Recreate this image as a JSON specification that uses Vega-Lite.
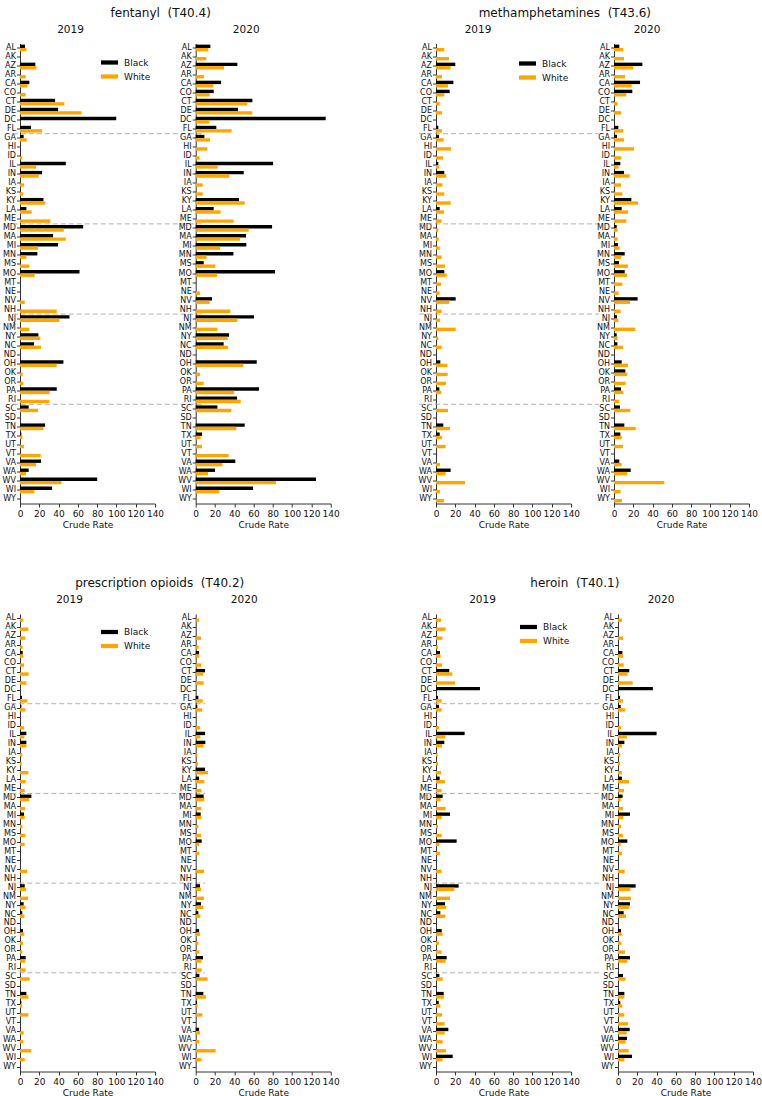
{
"$schema": "https://vega.github.io/schema/vega-lite/v6.json",
"padding": {"left": 2, "top": 6.5, "right": 0, "bottom": 0},
"config": {
 "view": {"stroke": null},
 "font": "DejaVu Sans",
 "axis": {"grid": false, "domainColor": "#333333", "tickColor": "#333333", "labelColor": "#111111", "titleColor": "#111111", "labelFont": "DejaVu Sans", "titleFont": "DejaVu Sans", "titleFontWeight": "normal", "titleFontSize": 9, "tickSize": 3.5, "labelOverlap": false},
 "axisY": {"labelFontSize": 8, "labelPadding": 1},
 "axisX": {"labelFontSize": 9, "labelPadding": 2, "titlePadding": 2, "labelFlush": false, "labelOverlap": false},
 "title": {"font": "DejaVu Sans", "fontWeight": "normal", "fontSize": 10.5, "color": "#111111", "offset": 7, "frame": "group", "anchor": "middle"},
 "style": {"group-title": {"font": "DejaVu Sans", "fontWeight": "normal", "fontSize": 10.5, "color": "#111111"}},
 "legend": {"labelFont": "DejaVu Sans", "labelFontSize": 9, "labelColor": "#111111", "symbolType": "M-1,-0.25H1V0.25H-1Z", "symbolSize": 289, "symbolStrokeWidth": 0, "labelOffset": 6, "padding": 0, "rowPadding": -3}
},
"datasets": {
 "breaks": [{"state": "GA"}, {"state": "MD"}, {"state": "NJ"}, {"state": "SC"}],
 "fent2019": [
  {"state":"AL","Black":5.2,"White":6.6},{"state":"AZ","Black":15.9,"White":17},{"state":"AR","White":5.9},{"state":"CA","Black":9.7,"White":7.6},{"state":"CO","White":5.9},{"state":"CT","Black":36.4,"White":46},{"state":"DE","Black":39.5,"White":63.8},{"state":"DC","Black":99.8},{"state":"FL","Black":11.4,"White":22.9},{"state":"GA","Black":3.8,"White":6.9},{"state":"ID","White":2.4},{"state":"IL","Black":47.5,"White":16.6},{"state":"IN","Black":22.9,"White":19.4},{"state":"IA","White":4.2},{"state":"KS","White":3.5},{"state":"KY","Black":24.3,"White":26.3},{"state":"LA","Black":6.6,"White":12.1},{"state":"ME","White":31.5},{"state":"MD","Black":65.5,"White":45.4},{"state":"MA","Black":34.3,"White":47.5},{"state":"MI","Black":39.5,"White":18.7},{"state":"MN","Black":18,"White":6.6},{"state":"MS","White":9.7},{"state":"MO","Black":61.7,"White":15.2},{"state":"NV","White":4.9},{"state":"NH","White":38.1},{"state":"NJ","Black":51.3,"White":40.9},{"state":"NM","White":9.7},{"state":"NY","Black":19.1,"White":21.1},{"state":"NC","Black":14.6,"White":21.8},{"state":"OH","Black":45,"White":38.1},{"state":"OK","White":2.8},{"state":"OR","White":3.5},{"state":"PA","Black":38.1,"White":30.8},{"state":"RI","White":30.5},{"state":"SC","Black":9,"White":18.7},{"state":"TN","Black":26,"White":24.3},{"state":"TX","Black":1.4,"White":2.4},{"state":"UT","White":4.2},{"state":"VT","White":21.5},{"state":"VA","Black":21.8,"White":16.6},{"state":"WA","Black":9,"White":6.2},{"state":"WV","Black":80,"White":43},{"state":"WI","Black":33.3,"White":14.9}
 ],
 "fent2020": [
  {"state":"AL","Black":15.2,"White":13.1},{"state":"AK","White":11.1},{"state":"AZ","Black":43.2,"White":29.4},{"state":"AR","White":8.6},{"state":"CA","Black":26.3,"White":18.3},{"state":"CO","Black":18.7,"White":14.5},{"state":"CT","Black":58.8,"White":53.6},{"state":"DE","Black":43.9,"White":58.8},{"state":"DC","Black":134.8,"White":14.2},{"state":"FL","Black":21.4,"White":37.3},{"state":"GA","Black":9,"White":14.9},{"state":"HI","White":12.1},{"state":"ID","White":4.1},{"state":"IL","Black":80.2,"White":22.8},{"state":"IN","Black":49.8,"White":34.9},{"state":"IA","White":7.3},{"state":"KS","White":7.3},{"state":"KY","Black":44.9,"White":50.8},{"state":"LA","Black":18.7,"White":25.9},{"state":"ME","White":39.4},{"state":"MD","Black":79.2,"White":55},{"state":"MA","Black":52.2,"White":46},{"state":"MI","Black":52.5,"White":25.2},{"state":"MN","Black":39.1,"White":11.4},{"state":"MS","Black":8.3,"White":20.4},{"state":"MO","Black":82.3,"White":22.1},{"state":"NE","White":4.5},{"state":"NV","Black":16.9,"White":14.5},{"state":"NH","White":35.9},{"state":"NJ","Black":60.5,"White":43.2},{"state":"NM","White":22.5},{"state":"NY","Black":34.6,"White":33.2},{"state":"NC","Black":29,"White":33.5},{"state":"OH","Black":63.3,"White":49.4},{"state":"OK","White":4.5},{"state":"OR","White":8.3},{"state":"PA","Black":65.7,"White":39.8},{"state":"RI","Black":42.9,"White":46.7},{"state":"SC","Black":22.5,"White":37},{"state":"TN","Black":50.8,"White":42.2},{"state":"TX","Black":6.6,"White":5.2},{"state":"UT","White":6.6},{"state":"VT","White":34.2},{"state":"VA","Black":41.1,"White":27.7},{"state":"WA","Black":20,"White":12.8},{"state":"WV","Black":124.8,"White":83.3},{"state":"WI","Black":59.5,"White":24.5}
 ],
 "meth2019": [
  {"state":"AL","White":8.6},{"state":"AK","White":13.5},{"state":"AZ","Black":20,"White":15.2},{"state":"AR","White":6.2},{"state":"CA","Black":18,"White":12.4},{"state":"CO","Black":14.2,"White":8.6},{"state":"CT","White":3.8},{"state":"DE","White":6.2},{"state":"FL","Black":2.4,"White":6.2},{"state":"GA","Black":3.1,"White":8},{"state":"HI","White":15.6},{"state":"ID","White":7.3},{"state":"IL","Black":2.4,"White":3.5},{"state":"IN","Black":8.6,"White":10.7},{"state":"IA","White":6.6},{"state":"KS","White":8.6},{"state":"KY","White":15.2},{"state":"LA","Black":3.8,"White":8.3},{"state":"ME","White":5.9},{"state":"MD","White":2.4},{"state":"MA","White":2.8},{"state":"MI","White":3.8},{"state":"MN","White":5.9},{"state":"MS","White":9.3},{"state":"MO","Black":8.6,"White":11.1},{"state":"MT","White":5.2},{"state":"NE","White":3.8},{"state":"NV","Black":20.4,"White":13.8},{"state":"NH","White":5.9},{"state":"NJ","White":4.1},{"state":"NM","White":20.4},{"state":"NY","White":2.4},{"state":"NC","White":5.9},{"state":"OH","Black":4.5,"White":11.8},{"state":"OK","White":12.1},{"state":"OR","White":10.4},{"state":"PA","Black":3.5,"White":5.5},{"state":"SC","White":12.4},{"state":"TN","Black":7.6,"White":14.5},{"state":"TX","Black":3.8,"White":6.2},{"state":"UT","White":10},{"state":"VA","White":4.1},{"state":"WA","Black":15.2,"White":10},{"state":"WV","White":30.1},{"state":"WI","White":4.1},{"state":"WY","White":8.3}
 ],
 "meth2020": [
  {"state":"AL","Black":5.5,"White":9.7},{"state":"AK","White":10.4},{"state":"AZ","Black":29.4,"White":20},{"state":"AR","White":11.4},{"state":"CA","Black":27,"White":18.3},{"state":"CO","Black":19,"White":12.8},{"state":"CT","White":3.8},{"state":"DE","White":7.6},{"state":"FL","Black":4.5,"White":9.7},{"state":"GA","Black":3.1,"White":10.4},{"state":"HI","White":20.7},{"state":"ID","White":7.6},{"state":"IL","Black":6.6,"White":4.8},{"state":"IN","Black":10.4,"White":16.3},{"state":"IA","White":7.3},{"state":"KS","White":8.6},{"state":"KY","Black":18,"White":24.9},{"state":"LA","Black":8,"White":14.5},{"state":"ME","White":12.8},{"state":"MD","Black":2.8,"White":3.8},{"state":"MA","White":3.8},{"state":"MI","Black":4.1,"White":5.9},{"state":"MN","Black":11.1,"White":7.6},{"state":"MS","Black":5.2,"White":14.5},{"state":"MO","Black":11.1,"White":13.5},{"state":"MT","White":8.6},{"state":"NE","White":4.8},{"state":"NV","Black":24.5,"White":16.6},{"state":"NH","White":6.9},{"state":"NJ","Black":3.1,"White":4.5},{"state":"NM","White":22.1},{"state":"NY","Black":2.8,"White":3.8},{"state":"NC","Black":3.5,"White":9.3},{"state":"OH","Black":8,"White":14.5},{"state":"OK","Black":11.8,"White":13.8},{"state":"OR","White":12.1},{"state":"PA","Black":7.3,"White":9.7},{"state":"RI","White":5.5},{"state":"SC","Black":6.2,"White":16.9},{"state":"TN","Black":10.7,"White":22.5},{"state":"TX","Black":6.6,"White":8},{"state":"UT","White":9.3},{"state":"VA","Black":5.5,"White":8},{"state":"WA","Black":17.3,"White":13.8},{"state":"WV","White":52.2},{"state":"WI","White":6.9},{"state":"WY","White":8.3}
 ],
 "presc2019": [
  {"state":"AL","White":3.5},{"state":"AK","White":8.7},{"state":"AZ","White":5.5},{"state":"AR","White":2.8},{"state":"CA","Black":2.8,"White":3.5},{"state":"CO","White":4.2},{"state":"CT","White":9},{"state":"DE","White":6.6},{"state":"FL","Black":2.1,"White":7.6},{"state":"GA","Black":1.4,"White":5.5},{"state":"ID","White":4.2},{"state":"IL","Black":6.6,"White":4.5},{"state":"IN","Black":6.6,"White":6.6},{"state":"IA","White":2.4},{"state":"KS","White":1.7},{"state":"KY","White":8.7},{"state":"LA","White":5.9},{"state":"ME","White":4.9},{"state":"MD","Black":11.8,"White":9.7},{"state":"MA","White":5.2},{"state":"MI","Black":4.2,"White":4.9},{"state":"MN","White":2.4},{"state":"MS","White":5.5},{"state":"MO","White":4.9},{"state":"NV","White":7.3},{"state":"NJ","Black":4.9,"White":6.2},{"state":"NM","White":8.3},{"state":"NY","Black":3.8,"White":5.9},{"state":"NC","Black":2.4,"White":4.5},{"state":"OH","Black":3.1,"White":4.5},{"state":"OK","White":3.1},{"state":"OR","White":2.4},{"state":"PA","Black":5.9,"White":5.5},{"state":"RI","White":5.9},{"state":"SC","White":10},{"state":"TN","Black":6.6,"White":8.7},{"state":"TX","Black":1.4,"White":2.1},{"state":"UT","White":8.7},{"state":"VA","White":3.8},{"state":"WA","White":3.5},{"state":"WV","White":11.8},{"state":"WI","White":4.9}
 ],
 "presc2020": [
  {"state":"AL","White":3.5},{"state":"AZ","White":5.5},{"state":"AR","White":3.1},{"state":"CA","Black":3.5,"White":3.8},{"state":"CO","White":5.9},{"state":"CT","Black":9.7,"White":7.9},{"state":"DE","White":8.3},{"state":"FL","Black":2.8,"White":7.3},{"state":"GA","Black":1.7,"White":6.6},{"state":"ID","White":4.5},{"state":"IL","Black":9.7,"White":4.8},{"state":"IN","Black":10,"White":7.9},{"state":"IA","White":1.7},{"state":"KS","White":2.4},{"state":"KY","Black":9.7,"White":12.8},{"state":"LA","Black":3.5,"White":9},{"state":"ME","White":5.9},{"state":"MD","Black":8.3,"White":9},{"state":"MA","White":5.9},{"state":"MI","Black":5.2,"White":5.9},{"state":"MN","White":2.8},{"state":"MS","White":5.5},{"state":"MO","Black":6.2,"White":3.5},{"state":"MT","White":3.8},{"state":"NV","White":8.6},{"state":"NJ","Black":4.5,"White":5.5},{"state":"NM","White":8.6},{"state":"NY","Black":5.5,"White":7.9},{"state":"NC","Black":2.8,"White":4.8},{"state":"OH","Black":3.5,"White":4.5},{"state":"OK","White":2.8},{"state":"OR","White":3.8},{"state":"PA","Black":7.6,"White":5.9},{"state":"RI","White":6.2},{"state":"SC","Black":3.8,"White":12.4},{"state":"TN","Black":7.9,"White":10.7},{"state":"TX","Black":1.4,"White":2.1},{"state":"UT","White":6.9},{"state":"VA","Black":3.5,"White":4.5},{"state":"WA","White":3.8},{"state":"WV","White":20.7},{"state":"WI","White":5.9}
 ],
 "her2019": [
  {"state":"AL","White":5.2},{"state":"AK","White":10},{"state":"AZ","White":6.6},{"state":"AR","White":2.1},{"state":"CA","Black":4.1,"White":4.8},{"state":"CO","White":6.2},{"state":"CT","Black":13.8,"White":16.9},{"state":"DE","White":19.7},{"state":"DC","Black":45.6},{"state":"FL","Black":2.1,"White":5.9},{"state":"GA","Black":3.1,"White":5.9},{"state":"ID","White":3.1},{"state":"IL","Black":29.7,"White":9.7},{"state":"IN","Black":8.6,"White":6.2},{"state":"IA","White":1.7},{"state":"KS","White":2.1},{"state":"KY","White":5.2},{"state":"LA","Black":3.8,"White":9.3},{"state":"ME","White":5.9},{"state":"MD","Black":6.9,"White":4.8},{"state":"MA","White":10},{"state":"MI","Black":14.5,"White":5.9},{"state":"MN","White":2.1},{"state":"MS","White":5.9},{"state":"MO","Black":21.4,"White":3.5},{"state":"MT","White":4.1},{"state":"NV","White":5.9},{"state":"NJ","Black":23.5,"White":19},{"state":"NM","White":14.5},{"state":"NY","Black":9.3,"White":10.7},{"state":"NC","Black":4.5,"White":9.7},{"state":"OH","Black":5.9,"White":6.9},{"state":"OK","White":3.1},{"state":"OR","White":5.9},{"state":"PA","Black":11.1,"White":10},{"state":"SC","Black":3.5,"White":6.9},{"state":"TN","Black":8,"White":8.3},{"state":"TX","Black":2.8,"White":4.5},{"state":"UT","White":6.2},{"state":"VT","White":9},{"state":"VA","Black":12.8,"White":9},{"state":"WA","White":6.9},{"state":"WV","White":10.4},{"state":"WI","Black":17.3,"White":6.6}
 ],
 "her2020": [
  {"state":"AL","White":4.1},{"state":"AZ","White":5.2},{"state":"CA","Black":4.5,"White":5.2},{"state":"CO","White":5.9},{"state":"CT","Black":11.7,"White":10},{"state":"DE","White":15.2},{"state":"DC","Black":36.2},{"state":"FL","Black":2.1,"White":5.2},{"state":"GA","Black":2.8,"White":7.6},{"state":"ID","White":3.1},{"state":"IL","Black":40,"White":9.3},{"state":"IN","Black":6.6,"White":4.1},{"state":"IA","White":2.4},{"state":"KS","White":2.1},{"state":"KY","White":4.1},{"state":"LA","Black":4.1,"White":11.4},{"state":"ME","White":6.2},{"state":"MD","Black":4.8,"White":2.8},{"state":"MA","White":5.2},{"state":"MI","Black":12.4,"White":5.5},{"state":"MN","White":3.1},{"state":"MS","White":5.2},{"state":"MO","Black":9.7,"White":2.8},{"state":"MT","White":4.1},{"state":"NV","White":6.9},{"state":"NJ","Black":18.3,"White":12.8},{"state":"NM","White":13.4},{"state":"NY","Black":12.4,"White":11.7},{"state":"NC","Black":5.9,"White":8.3},{"state":"OH","Black":3.1,"White":3.8},{"state":"OK","White":3.5},{"state":"OR","White":7.2},{"state":"PA","Black":12.4,"White":9.7},{"state":"SC","Black":5.2,"White":7.9},{"state":"TN","Black":6.6,"White":6.6},{"state":"TX","Black":2.4,"White":4.5},{"state":"UT","White":6.6},{"state":"VT","White":10.3},{"state":"VA","Black":12.1,"White":9},{"state":"WA","Black":9.3,"White":7.9},{"state":"WV","White":11},{"state":"WI","Black":14.5,"White":6.6}
 ]
},
"spacing": 47.5,
"resolve": {"scale": {"color": "independent"}},
"vconcat": [
 {"spacing": 78, "resolve": {"scale": {"color": "independent"}},
  "hconcat": [
   {"title": {"text": "fentanyl\u00a0 (T40.4)", "fontSize": 12, "fontWeight": "normal", "frame": "bounds", "anchor": "middle", "dx": -10, "offset": 5},
    "spacing": 40.7, "bounds": "flush", "resolve": {"scale": {"color": "independent"}},
    "hconcat": [
     {"width": 135, "height": 460, "title": {"text": "2019", "dx": -17, "fontWeight": "normal", "fontSize": 10.5, "offset": 8},
      "layer": [
       {"data": {"name": "fent2019"}, "transform": [{"fold": ["Black","White"], "as": ["race","rate"]}, {"filter": "isValid(datum.rate)"}],
        "mark": "bar",
        "encoding": {
         "y": {"field": "state", "type": "nominal", "scale": {"domain": ["AL","AK","AZ","AR","CA","CO","CT","DE","DC","FL","GA","HI","ID","IL","IN","IA","KS","KY","LA","ME","MD","MA","MI","MN","MS","MO","MT","NE","NV","NH","NJ","NM","NY","NC","ND","OH","OK","OR","PA","RI","SC","SD","TN","TX","UT","VT","VA","WA","WV","WI","WY"], "paddingInner": 0, "paddingOuter": 0}, "axis": {"title": null}},
         "yOffset": {"field": "race", "type": "nominal", "scale": {"domain": ["Black","White"], "paddingInner": 0, "paddingOuter": 0.33}},
         "x": {"field": "rate", "type": "quantitative", "scale": {"domain": [0,140], "nice": false}, "axis": {"values": [0,20,40,60,80,100,120,140], "title": "Crude Rate"}},
         "color": {"field": "race", "type": "nominal", "scale": {"domain": ["Black","White"], "range": ["#000000","#ffa500"]}, "legend": {"title": null, "orient": "none", "legendX": 81, "legendY": 10.5}}
        }},
       {"data": {"name": "breaks"}, "mark": {"type": "rule", "color": "#b0b0b0", "strokeDash": [5,3], "strokeWidth": 1},
        "encoding": {"y": {"field": "state", "type": "nominal", "bandPosition": 0}, "x": {"datum": -7.5, "type": "quantitative", "axis": {"values": [0,20,40,60,80,100,120,140], "title": "Crude Rate"}}, "x2": {"datum": 192}}}
      ]},
     {"width": 135, "height": 460, "title": {"text": "2020", "dx": -17, "fontWeight": "normal", "fontSize": 10.5, "offset": 8},
      "data": {"name": "fent2020"}, "transform": [{"fold": ["Black","White"], "as": ["race","rate"]}, {"filter": "isValid(datum.rate)"}],
      "mark": "bar",
      "encoding": {
       "y": {"field": "state", "type": "nominal", "scale": {"domain": ["AL","AK","AZ","AR","CA","CO","CT","DE","DC","FL","GA","HI","ID","IL","IN","IA","KS","KY","LA","ME","MD","MA","MI","MN","MS","MO","MT","NE","NV","NH","NJ","NM","NY","NC","ND","OH","OK","OR","PA","RI","SC","SD","TN","TX","UT","VT","VA","WA","WV","WI","WY"], "paddingInner": 0, "paddingOuter": 0}, "axis": {"title": null}},
       "yOffset": {"field": "race", "type": "nominal", "scale": {"domain": ["Black","White"], "paddingInner": 0, "paddingOuter": 0.33}},
       "x": {"field": "rate", "type": "quantitative", "scale": {"domain": [0,140], "nice": false}, "axis": {"values": [0,20,40,60,80,100,120,140], "title": "Crude Rate"}},
       "color": {"field": "race", "type": "nominal", "scale": {"domain": ["Black","White"], "range": ["#000000","#ffa500"]}, "legend": null}
      }}
    ]},
   {"title": {"text": "methamphetamines\u00a0 (T43.6)", "fontSize": 12, "fontWeight": "normal", "frame": "bounds", "anchor": "middle", "dx": -23, "offset": 5},
    "spacing": 43, "bounds": "flush", "resolve": {"scale": {"color": "independent"}},
    "hconcat": [
     {"width": 135, "height": 460, "title": {"text": "2019", "dx": -25.5, "fontWeight": "normal", "fontSize": 10.5, "offset": 8},
      "layer": [
       {"data": {"name": "meth2019"}, "transform": [{"fold": ["Black","White"], "as": ["race","rate"]}, {"filter": "isValid(datum.rate)"}],
        "mark": "bar",
        "encoding": {
         "y": {"field": "state", "type": "nominal", "scale": {"domain": ["AL","AK","AZ","AR","CA","CO","CT","DE","DC","FL","GA","HI","ID","IL","IN","IA","KS","KY","LA","ME","MD","MA","MI","MN","MS","MO","MT","NE","NV","NH","NJ","NM","NY","NC","ND","OH","OK","OR","PA","RI","SC","SD","TN","TX","UT","VT","VA","WA","WV","WI","WY"], "paddingInner": 0, "paddingOuter": 0}, "axis": {"title": null}},
         "yOffset": {"field": "race", "type": "nominal", "scale": {"domain": ["Black","White"], "paddingInner": 0, "paddingOuter": 0.33}},
         "x": {"field": "rate", "type": "quantitative", "scale": {"domain": [0,140], "nice": false}, "axis": {"values": [0,20,40,60,80,100,120,140], "title": "Crude Rate"}},
         "color": {"field": "race", "type": "nominal", "scale": {"domain": ["Black","White"], "range": ["#000000","#ffa500"]}, "legend": {"title": null, "orient": "none", "legendX": 83, "legendY": 11.5}}
        }},
       {"data": {"name": "breaks"}, "mark": {"type": "rule", "color": "#b0b0b0", "strokeDash": [5,3], "strokeWidth": 1},
        "encoding": {"y": {"field": "state", "type": "nominal", "bandPosition": 0}, "x": {"datum": -17.6, "type": "quantitative", "axis": {"values": [0,20,40,60,80,100,120,140], "title": "Crude Rate"}}, "x2": {"datum": 169}}}
      ]},
     {"width": 135, "height": 460, "title": {"text": "2020", "dx": -34.5, "fontWeight": "normal", "fontSize": 10.5, "offset": 8},
      "data": {"name": "meth2020"}, "transform": [{"fold": ["Black","White"], "as": ["race","rate"]}, {"filter": "isValid(datum.rate)"}],
      "mark": "bar",
      "encoding": {
       "y": {"field": "state", "type": "nominal", "scale": {"domain": ["AL","AK","AZ","AR","CA","CO","CT","DE","DC","FL","GA","HI","ID","IL","IN","IA","KS","KY","LA","ME","MD","MA","MI","MN","MS","MO","MT","NE","NV","NH","NJ","NM","NY","NC","ND","OH","OK","OR","PA","RI","SC","SD","TN","TX","UT","VT","VA","WA","WV","WI","WY"], "paddingInner": 0, "paddingOuter": 0}, "axis": {"title": null}},
       "yOffset": {"field": "race", "type": "nominal", "scale": {"domain": ["Black","White"], "paddingInner": 0, "paddingOuter": 0.33}},
       "x": {"field": "rate", "type": "quantitative", "scale": {"domain": [0,140], "nice": false}, "axis": {"values": [0,20,40,60,80,100,120,140], "title": "Crude Rate"}},
       "color": {"field": "race", "type": "nominal", "scale": {"domain": ["Black","White"], "range": ["#000000","#ffa500"]}, "legend": null}
      }}
    ]}
  ]},
 {"spacing": 78, "resolve": {"scale": {"color": "independent"}},
  "hconcat": [
   {"title": {"text": "prescription opioids\u00a0 (T40.2)", "fontSize": 12, "fontWeight": "normal", "frame": "bounds", "anchor": "middle", "dx": -11, "offset": 5},
    "spacing": 40.7, "bounds": "flush", "resolve": {"scale": {"color": "independent"}},
    "hconcat": [
     {"width": 135, "height": 457.5, "title": {"text": "2019", "dx": -18, "fontWeight": "normal", "fontSize": 10.5, "offset": 8},
      "layer": [
       {"data": {"name": "presc2019"}, "transform": [{"fold": ["Black","White"], "as": ["race","rate"]}, {"filter": "isValid(datum.rate)"}],
        "mark": "bar",
        "encoding": {
         "y": {"field": "state", "type": "nominal", "scale": {"domain": ["AL","AK","AZ","AR","CA","CO","CT","DE","DC","FL","GA","HI","ID","IL","IN","IA","KS","KY","LA","ME","MD","MA","MI","MN","MS","MO","MT","NE","NV","NH","NJ","NM","NY","NC","ND","OH","OK","OR","PA","RI","SC","SD","TN","TX","UT","VT","VA","WA","WV","WI","WY"], "paddingInner": 0, "paddingOuter": 0}, "axis": {"title": null}},
         "yOffset": {"field": "race", "type": "nominal", "scale": {"domain": ["Black","White"], "paddingInner": 0, "paddingOuter": 0.33}},
         "x": {"field": "rate", "type": "quantitative", "scale": {"domain": [0,140], "nice": false}, "axis": {"values": [0,20,40,60,80,100,120,140], "title": "Crude Rate"}},
         "color": {"field": "race", "type": "nominal", "scale": {"domain": ["Black","White"], "range": ["#000000","#ffa500"]}, "legend": {"title": null, "orient": "none", "legendX": 81, "legendY": 9.5}}
        }},
       {"data": {"name": "breaks"}, "mark": {"type": "rule", "color": "#b0b0b0", "strokeDash": [5,3], "strokeWidth": 1},
        "encoding": {"y": {"field": "state", "type": "nominal", "bandPosition": 0}, "x": {"datum": -9, "type": "quantitative", "axis": {"values": [0,20,40,60,80,100,120,140], "title": "Crude Rate"}}, "x2": {"datum": 192}}}
      ]},
     {"width": 135, "height": 457.5, "title": {"text": "2020", "dx": -19, "fontWeight": "normal", "fontSize": 10.5, "offset": 8},
      "data": {"name": "presc2020"}, "transform": [{"fold": ["Black","White"], "as": ["race","rate"]}, {"filter": "isValid(datum.rate)"}],
      "mark": "bar",
      "encoding": {
       "y": {"field": "state", "type": "nominal", "scale": {"domain": ["AL","AK","AZ","AR","CA","CO","CT","DE","DC","FL","GA","HI","ID","IL","IN","IA","KS","KY","LA","ME","MD","MA","MI","MN","MS","MO","MT","NE","NV","NH","NJ","NM","NY","NC","ND","OH","OK","OR","PA","RI","SC","SD","TN","TX","UT","VT","VA","WA","WV","WI","WY"], "paddingInner": 0, "paddingOuter": 0}, "axis": {"title": null}},
       "yOffset": {"field": "race", "type": "nominal", "scale": {"domain": ["Black","White"], "paddingInner": 0, "paddingOuter": 0.33}},
       "x": {"field": "rate", "type": "quantitative", "scale": {"domain": [0,140], "nice": false}, "axis": {"values": [0,20,40,60,80,100,120,140], "title": "Crude Rate"}},
       "color": {"field": "race", "type": "nominal", "scale": {"domain": ["Black","White"], "range": ["#000000","#ffa500"]}, "legend": null}
      }}
    ]},
   {"title": {"text": "heroin\u00a0 (T40.1)", "fontSize": 12, "fontWeight": "normal", "frame": "bounds", "anchor": "middle", "dx": -15, "offset": 5},
    "spacing": 47, "bounds": "flush", "resolve": {"scale": {"color": "independent"}},
    "hconcat": [
     {"width": 135, "height": 457.5, "title": {"text": "2019", "dx": -21, "fontWeight": "normal", "fontSize": 10.5, "offset": 8},
      "layer": [
       {"data": {"name": "her2019"}, "transform": [{"fold": ["Black","White"], "as": ["race","rate"]}, {"filter": "isValid(datum.rate)"}],
        "mark": "bar",
        "encoding": {
         "y": {"field": "state", "type": "nominal", "scale": {"domain": ["AL","AK","AZ","AR","CA","CO","CT","DE","DC","FL","GA","HI","ID","IL","IN","IA","KS","KY","LA","ME","MD","MA","MI","MN","MS","MO","MT","NE","NV","NH","NJ","NM","NY","NC","ND","OH","OK","OR","PA","RI","SC","SD","TN","TX","UT","VT","VA","WA","WV","WI","WY"], "paddingInner": 0, "paddingOuter": 0}, "axis": {"title": null}},
         "yOffset": {"field": "race", "type": "nominal", "scale": {"domain": ["Black","White"], "paddingInner": 0, "paddingOuter": 0.33}},
         "x": {"field": "rate", "type": "quantitative", "scale": {"domain": [0,140], "nice": false}, "axis": {"values": [0,20,40,60,80,100,120,140], "title": "Crude Rate"}},
         "color": {"field": "race", "type": "nominal", "scale": {"domain": ["Black","White"], "range": ["#000000","#ffa500"]}, "legend": {"title": null, "orient": "none", "legendX": 84, "legendY": 4.5}}
        }},
       {"data": {"name": "breaks"}, "mark": {"type": "rule", "color": "#b0b0b0", "strokeDash": [5,3], "strokeWidth": 1},
        "encoding": {"y": {"field": "state", "type": "nominal", "bandPosition": 0}, "x": {"datum": -10.4, "type": "quantitative", "axis": {"values": [0,20,40,60,80,100,120,140], "title": "Crude Rate"}}, "x2": {"datum": 171}}}
      ]},
     {"width": 135, "height": 457.5, "title": {"text": "2020", "dx": -24.5, "fontWeight": "normal", "fontSize": 10.5, "offset": 8},
      "data": {"name": "her2020"}, "transform": [{"fold": ["Black","White"], "as": ["race","rate"]}, {"filter": "isValid(datum.rate)"}],
      "mark": "bar",
      "encoding": {
       "y": {"field": "state", "type": "nominal", "scale": {"domain": ["AL","AK","AZ","AR","CA","CO","CT","DE","DC","FL","GA","HI","ID","IL","IN","IA","KS","KY","LA","ME","MD","MA","MI","MN","MS","MO","MT","NE","NV","NH","NJ","NM","NY","NC","ND","OH","OK","OR","PA","RI","SC","SD","TN","TX","UT","VT","VA","WA","WV","WI","WY"], "paddingInner": 0, "paddingOuter": 0}, "axis": {"title": null}},
       "yOffset": {"field": "race", "type": "nominal", "scale": {"domain": ["Black","White"], "paddingInner": 0, "paddingOuter": 0.33}},
       "x": {"field": "rate", "type": "quantitative", "scale": {"domain": [0,140], "nice": false}, "axis": {"values": [0,20,40,60,80,100,120,140], "title": "Crude Rate"}},
       "color": {"field": "race", "type": "nominal", "scale": {"domain": ["Black","White"], "range": ["#000000","#ffa500"]}, "legend": null}
      }}
    ]}
  ]}
]
}
